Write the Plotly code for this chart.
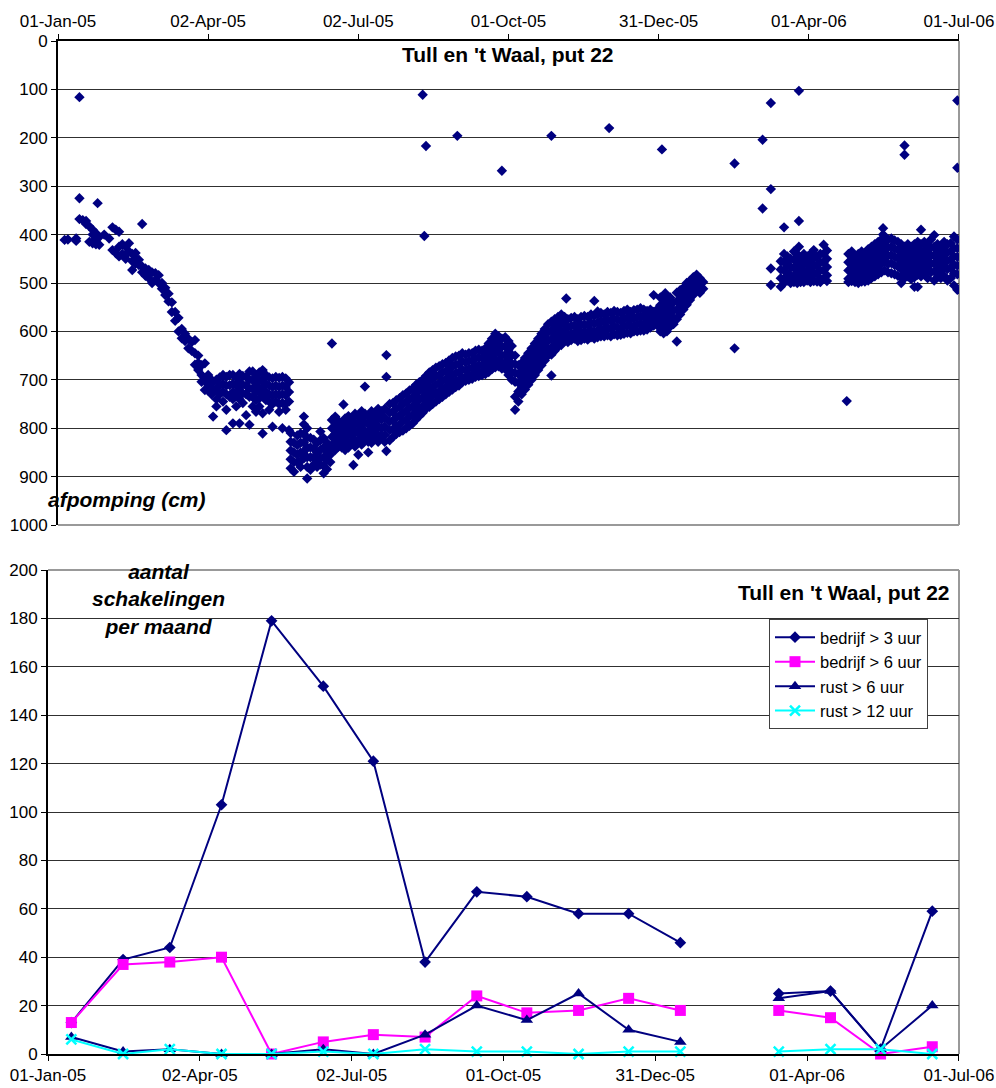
import datetime as dt
import plotly.graph_objects as go

# ---------------- data: afpomping (cm) put 22 ----------------
# dagnummer vanaf 01-01-2005 en gemeten afpomping(en) op die dag
afp_dag = [
    4, 6, 11, 13, 15, 17, 19, 21, 23, 24,
    25, 28, 31, 33, 35, 37, 39, 41, 43, 45,
    47, 49, 51, 53, 55, 57, 59, 61, 63, 65,
    67, 69, 71, 73, 75, 77, 79, 81, 83, 85,
    87, 89, 91, 93,
    94, 96, 98, 100, 102, 104, 106, 108, 110, 112,
    114, 116, 118, 120, 122, 124, 126, 128, 130, 132,
    134, 136, 138, 140,
    141, 143, 145, 147, 149, 151, 153, 155, 157, 159,
    161, 163, 165, 166,
    168, 170, 172, 173, 174, 176, 178, 179, 180, 182,
    184, 186, 188, 190, 192, 194, 196, 198, 199, 201,
    203, 205, 207, 209, 211, 213, 215, 217, 219, 221,
    222, 223,
    225, 227, 229, 231, 233, 235, 237, 239, 241, 242,
    243, 245, 247, 249, 251, 253, 255, 257, 259, 261,
    263, 265, 267, 269, 271, 273, 275, 277, 279, 281,
    283, 285, 287, 289, 291, 293, 295, 297, 299,
    301, 303, 305, 307, 308, 309, 311, 313, 315, 317,
    319, 321, 323, 325, 327, 329, 331, 333, 334, 335,
    337, 339, 341, 343, 345, 347, 349, 351, 353, 355,
    357, 359, 361, 363, 365, 366, 367, 368, 369, 371,
    373, 375, 377, 379, 381, 383, 385, 387, 389, 391,
    410, 427, 432,
    438, 440, 442, 444, 446, 448, 449, 450, 452, 454,
    456, 458, 460, 462, 464, 466,
    478, 479, 481, 483, 485, 487, 489, 491, 493, 495,
    497, 499, 500, 501, 503, 505, 507, 509, 511, 513,
    515, 517, 519, 521, 523, 525, 527, 529, 531, 533,
    535, 537, 539, 541, 543, 545,
]
afp_cm = [
    [411], [410], [413, 408], [116, 325, 368], [370], [372, 378], [383, 415], [390, 400, 418], [397, 408, 420], [335],
    [405, 421], [400], [408], [385, 432], [390, 438], [394, 425, 445], [420, 440], [425, 442, 450], [418, 435], [440, 455, 473],
    [438, 450, 460], [452, 463], [378, 466, 478], [470, 485], [473, 490], [478, 500], [480, 494], [484, 500], [500, 512], [510, 525],
    [522, 538], [540, 560], [560, 578], [572, 600], [595, 614], [605, 620], [615, 635], [622, 640], [618, 645, 669], [650, 665, 680],
    [670, 690, 704], [666, 700, 721], [690, 710, 722], [700, 718, 730],
    [705, 725, 776], [700, 718, 740, 755], [695, 712, 730], [690, 708, 725, 745], [694, 712, 730, 762, 804], [690, 711, 735], [690, 708, 725, 740, 790], [695, 712, 730, 755], [688, 705, 722, 740, 790], [692, 710, 728, 748],
    [694, 712, 730, 773], [683, 700, 718, 735, 793], [683, 700, 718, 735, 755], [690, 708, 725, 742, 766], [685, 702, 720, 738, 755], [680, 698, 715, 732, 769, 811], [690, 708, 725, 742], [695, 712, 730, 745, 762], [697, 715, 732, 750, 797], [694, 712, 730, 745],
    [696, 715, 732, 750, 766], [694, 712, 730, 748, 800], [697, 715, 732, 750, 762], [705, 725, 745, 804],
    [810, 828, 846, 864, 883], [830, 850, 870, 890], [815, 835, 855, 870], [811, 830, 850, 868, 880], [776, 792, 812, 830, 848, 862], [800, 820, 840, 860, 880, 904], [820, 840, 860, 886], [824, 842, 860, 875], [830, 850, 866, 880], [807, 825, 845, 862, 875],
    [820, 840, 860, 878, 893], [830, 848, 866, 885], [838, 855, 870], [625, 783, 800, 818, 835],
    [776, 795, 812, 830, 845], [785, 802, 820, 838], [790, 808, 825, 840], [751], [780, 798, 815, 832, 845], [775, 792, 810, 828, 840], [780, 798, 815, 832], [876], [770, 788, 806, 824, 838], [775, 793, 810, 828, 855],
    [765, 782, 800, 818, 834], [714, 770, 788, 806, 822], [775, 792, 810, 828, 850], [765, 782, 800, 818, 830], [770, 788, 806, 822], [760, 778, 796, 814, 828], [765, 782, 800, 816], [760, 778, 796, 814, 828], [649, 694, 847], [750, 768, 786, 804, 825],
    [748, 766, 784, 802, 818], [742, 760, 778, 796, 812], [738, 756, 774, 792, 808], [732, 750, 768, 786, 805], [728, 746, 764, 782, 800], [722, 740, 758, 776, 795], [718, 736, 754, 772, 790], [710, 728, 746, 764, 782], [705, 722, 740, 758, 775], [111, 700, 718, 736, 754, 768],
    [403], [217, 692, 710, 728, 745, 760],
    [685, 702, 720, 738, 756], [680, 698, 715, 732, 750], [675, 692, 710, 728, 745], [672, 690, 707, 724, 740], [668, 685, 702, 719, 735], [665, 682, 699, 715, 730], [660, 677, 694, 710, 725], [655, 672, 689, 705, 720], [652, 669, 686, 702, 715], [196],
    [650, 667, 684, 700, 712], [645, 662, 679, 695, 705], [648, 664, 680, 695, 702], [645, 661, 677, 692, 700], [645, 660, 675, 690, 698], [640, 656, 672, 686, 694], [638, 654, 670, 684, 692], [640, 655, 670, 684, 690], [635, 650, 666, 680, 688], [625, 642, 658, 672, 684],
    [615, 632, 650, 666, 678], [605, 622, 640, 658, 674], [610, 627, 644, 660, 672], [268, 615, 632, 650, 665, 677], [612, 630, 648, 664, 678], [620, 638, 656, 674, 690], [630, 648, 666, 684, 700], [650, 668, 686, 704, 735, 762], [670, 688, 706, 724, 745], [665, 682, 700, 717, 730],
    [655, 672, 690, 707, 720], [645, 662, 680, 697, 710], [635, 652, 670, 687, 700], [625, 642, 660, 677, 690], [615, 632, 650, 667, 680], [605, 622, 640, 657, 670], [595, 612, 630, 647, 660], [585, 602, 620, 637, 650], [196, 580, 598, 616, 634, 648, 691],
    [575, 592, 610, 628, 640], [570, 587, 604, 620, 632], [565, 582, 599, 615, 628], [570, 587, 604, 620], [532], [575, 592, 608, 622], [572, 589, 605, 618], [570, 587, 603, 615], [575, 592, 608, 620], [570, 587, 603, 618],
    [568, 585, 600, 615], [570, 587, 603, 617], [565, 582, 598, 612], [537, 568, 584, 600, 615], [559, 565, 582, 598, 612], [562, 578, 594, 610], [565, 581, 597, 610], [560, 576, 592, 608], [180], [562, 578, 594, 610],
    [558, 574, 590, 606], [560, 576, 592, 608], [562, 578, 594, 607], [558, 574, 590, 605], [555, 571, 587, 603], [560, 575, 590, 604], [556, 572, 588, 600], [555, 570, 585, 600], [552, 568, 583, 598], [555, 570, 585, 598],
    [558, 572, 586, 596], [555, 568, 581, 592], [525, 560, 574, 588], [555, 570, 585], [530, 546, 562, 578, 594, 600], [224], [540, 556, 572, 588, 604], [521], [535, 551, 567, 583, 600], [530, 546, 562, 578, 590],
    [540, 556, 572, 585], [520, 538, 556, 575, 621], [515, 532, 549, 565], [510, 526, 542, 555], [500, 516, 532, 545], [495, 510, 525, 535], [488, 502, 516, 525], [483, 498, 512], [490, 505, 520], [498, 512],
    [253, 635], [204, 346], [128, 306, 470, 504],
    [455, 472, 490, 508], [385, 440, 457, 474, 491, 500], [445, 462, 479, 495], [450, 467, 484, 500], [435, 452, 469, 486, 498], [440, 457, 474, 491, 500], [103, 372, 425], [450, 467, 484, 498], [440, 457, 474, 491, 498], [445, 462, 479, 495],
    [440, 457, 474, 491, 498], [432, 449, 466, 483, 496], [445, 462, 479, 497], [440, 457, 474, 491, 498], [421, 440, 457, 474, 491], [433, 450, 467, 484, 496],
    [744], [440, 457, 474, 491, 498], [435, 452, 469, 486, 496], [445, 462, 479, 498], [440, 457, 474, 491, 500], [435, 452, 469, 486, 497], [440, 457, 474, 491, 497], [430, 447, 464, 481, 495], [425, 442, 459, 476, 490], [420, 437, 454, 471, 486],
    [415, 432, 449, 466, 482], [410, 427, 444, 461, 478], [387, 400, 418, 436], [405, 422, 439, 456, 474], [410, 427, 444, 461, 478], [408, 425, 442, 459, 480], [412, 429, 446, 463, 482], [415, 432, 449, 466, 485], [420, 437, 454, 471, 488, 500], [216, 235, 425, 442, 459, 476, 490],
    [420, 437, 454, 471, 486], [425, 442, 459, 476, 492], [420, 437, 454, 471, 488, 508], [415, 432, 449, 466, 483, 508], [390, 420, 437, 454, 471, 486], [415, 432, 449, 466, 482], [420, 437, 454, 471, 490], [410, 427, 444, 461, 478], [401, 425, 442, 459, 476, 495], [420, 437, 454, 471, 488],
    [425, 442, 459, 476, 490], [415, 432, 449, 466, 485], [420, 437, 454, 471, 495], [418, 435, 452, 469, 490], [404, 428, 445, 462, 480, 505], [123, 262, 410, 428, 446, 464, 482, 514],
]
assert len(afp_dag) == len(afp_cm), (len(afp_dag), len(afp_cm))

# ---------------- data: schakelingen per maand ----------------
maand = ["2005-01-15", "2005-02-15", "2005-03-15", "2005-04-15", "2005-05-15", "2005-06-15",
         "2005-07-15", "2005-08-15", "2005-09-15", "2005-10-15", "2005-11-15", "2005-12-15",
         "2006-01-15", "2006-02-15", "2006-03-15", "2006-04-15", "2006-05-15", "2006-06-15"]
bedrijf_3 = [13, 39, 44, 103, 179, 152, 121, 38, 67, 65, 58, 58, 46, None, 25, 26, 2, 59]
bedrijf_6 = [13, 37, 38, 40, 0, 5, 8, 7, 24, 17, 18, 23, 18, None, 18, 15, 0, 3]
rust_6 = [7, 1, 2, 0, 0, 2, 0, 8, 20, 14, 25, 10, 5, None, 23, 26, 2, 20]
rust_12 = [6, 0, 2, 0, 0, 1, 0, 2, 1, 1, 0, 1, 1, None, 1, 2, 2, 0]

tick_start = "2005-01-01"
tick_stap_dagen = 91
x_bereik = ["2005-01-01", "2006-07-01 00:30"]

# ---------------- figure ----------------
start = dt.date(2005, 1, 1)
sx, sy = [], []
for d, vals in zip(afp_dag, afp_cm):
    for v in vals:
        sx.append(start + dt.timedelta(days=d))
        sy.append(v)

FONT = "Arial, Liberation Sans, sans-serif"
NAVY = "#000080"

W, H = 996, 1088
def px(x):
    return x / W
def py(y):
    return 1 - y / H

top_x = [px(58), px(959)]
top_y = [py(525), py(41)]
bot_x = [px(48), px(959)]
bot_y = [py(1054), py(570)]

fig = go.Figure()
fig.add_trace(go.Scatter(
    x=sx, y=sy, mode="markers", xaxis="x", yaxis="y", showlegend=False,
    marker=dict(symbol="diamond", size=8, color=NAVY, line=dict(width=0)),
    cliponaxis=True,
))

series = [
    ("bedrijf > 3 uur", bedrijf_3, NAVY, "diamond", 9, 2),
    ("bedrijf > 6 uur", bedrijf_6, "#FF00FF", "square", 11, 2),
    ("rust > 6 uur", rust_6, NAVY, "triangle-up", 11, 2),
    ("rust > 12 uur", rust_12, "#00FFFF", "x-thin", 10, 2),
]
for i, (naam, vals, kleur, sym, msize, lw) in enumerate(series):
    mk = dict(symbol=sym, size=msize, color=kleur)
    if sym == "x-thin":
        mk["line"] = dict(color=kleur, width=2.5)
    else:
        mk["line"] = dict(width=0)
    fig.add_trace(go.Scatter(
        x=maand, y=vals, mode="lines+markers", name=naam, xaxis="x2", yaxis="y2",
        line=dict(color=kleur, width=lw), marker=mk,
        connectgaps=False, cliponaxis=False,
    ))

tickfont = dict(family=FONT, size=17, color="black")
dtick_ms = tick_stap_dagen * 86400000

axis_common = dict(
    type="date", range=x_bereik, tick0=tick_start, dtick=dtick_ms, tickformat="%d-%b-%y",
    ticks="outside", ticklen=5, tickwidth=1, tickcolor="black",
    showline=True, linecolor="black", linewidth=2, showgrid=False, zeroline=False,
    tickfont=tickfont, fixedrange=True, automargin=False,
)
yaxis_common = dict(
    ticks="outside", ticklen=5, tickcolor="black",
    showline=True, linecolor="black", linewidth=2,
    showgrid=True, gridcolor="#303030", gridwidth=1, zeroline=False,
    tickfont=tickfont, automargin=False,
)

fig.update_layout(
    width=W, height=H,
    margin=dict(l=0, r=0, t=0, b=0, autoexpand=False),
    paper_bgcolor="white", plot_bgcolor="rgba(0,0,0,0)",
    font=dict(family=FONT, size=16, color="black"),
    xaxis=dict(domain=top_x, anchor="y", side="top", **axis_common),
    yaxis=dict(domain=top_y, anchor="x", range=[1000, 0], tick0=0, dtick=100, **yaxis_common),
    xaxis2=dict(domain=bot_x, anchor="y2", side="bottom", **axis_common),
    yaxis2=dict(domain=bot_y, anchor="x2", range=[0, 200], tick0=0, dtick=20, **yaxis_common),
    legend=dict(x=px(769), y=py(619), xanchor="left", yanchor="top",
                bgcolor="white", bordercolor="#404040", borderwidth=1,
                font=dict(family=FONT, size=16.5, color="black"), itemwidth=40),
    showlegend=True,
)

border = dict(color="#999999", width=2)
fig.add_shape(type="line", xref="paper", yref="paper", x0=top_x[1], x1=top_x[1], y0=top_y[0], y1=top_y[1], line=border, layer="below")
fig.add_shape(type="line", xref="paper", yref="paper", x0=top_x[0], x1=top_x[1], y0=top_y[0], y1=top_y[0], line=border, layer="below")
fig.add_shape(type="line", xref="paper", yref="paper", x0=bot_x[1], x1=bot_x[1], y0=bot_y[0], y1=bot_y[1], line=border, layer="below")
fig.add_shape(type="line", xref="paper", yref="paper", x0=bot_x[0], x1=bot_x[1], y0=bot_y[1], y1=bot_y[1], line=border, layer="below")

title_font = dict(family=FONT, size=21, color="black")
fig.add_annotation(text="<b>Tull en 't Waal, put 22</b>", xref="paper", yref="paper",
                   x=px(508), y=py(55), xanchor="center", yanchor="middle", showarrow=False, font=title_font)
fig.add_annotation(text="<b><i>afpomping (cm)</i></b>", xref="paper", yref="paper",
                   x=px(46), y=py(500), xanchor="left", yanchor="middle", showarrow=False, font=title_font)
fig.add_annotation(text="<b><i>aantal<br>schakelingen<br>per maand</i></b>", xref="paper", yref="paper",
                   x=px(158), y=py(599), xanchor="center", yanchor="middle", showarrow=False, font=title_font)
fig.add_annotation(text="<b>Tull en 't Waal, put 22</b>", xref="paper", yref="paper",
                   x=px(952), y=py(592), xanchor="right", yanchor="middle", showarrow=False, font=title_font)

fig.write_html("out.html")
